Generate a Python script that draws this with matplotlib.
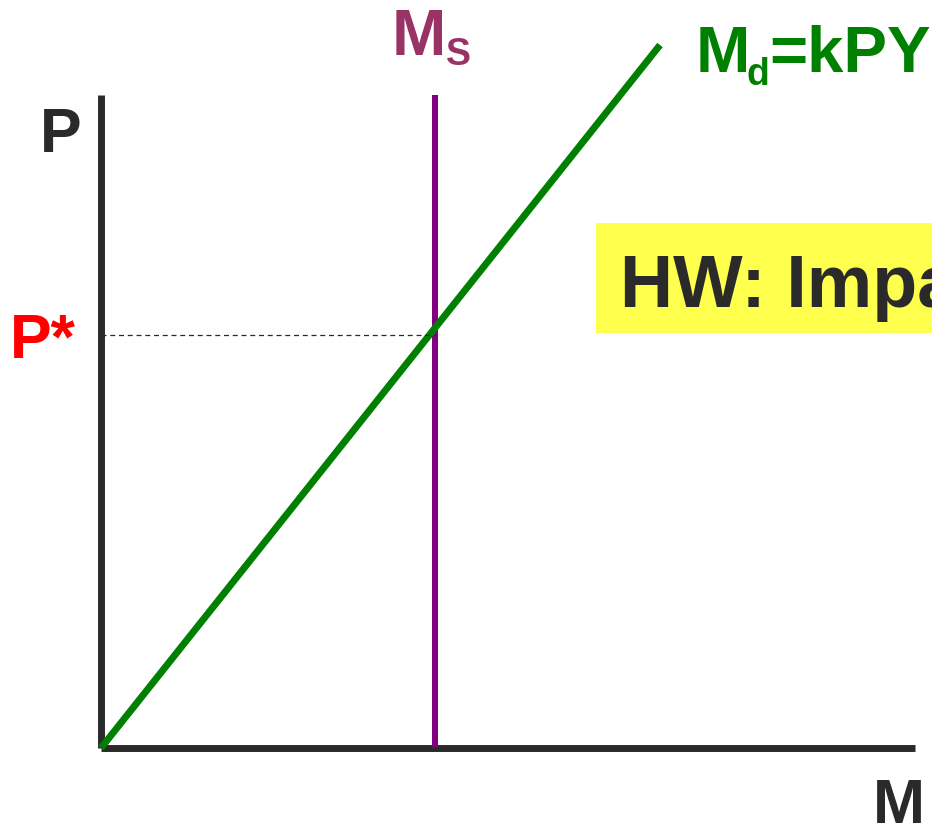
import matplotlib
matplotlib.use("Agg")
import matplotlib.pyplot as plt
from matplotlib.patches import Rectangle

plt.rcParams["font.family"] = ["Liberation Sans", "DejaVu Sans"]
plt.rcParams["font.weight"] = "bold"

# economic quantities (units = pixels of the original slide, origin at the axes corner)
m_axis_end = 814
p_axis_end = 653
ms_value = 334
md_end = (559, 703)
p_star = 413

DARK = "#2a2a2a"
GREEN = "#008000"
PURPLE = "#800080"
MS_LABEL = "#993366"
RED = "#ff0000"
YELLOW = "#ffff4d"

fig = plt.figure(figsize=(9.32, 8.26), dpi=100)
ax = fig.add_axes([0, 0, 1, 1])
ax.set_xlim(-101, 831)
ax.set_ylim(-78, 748)
ax.axis("off")

# axes of the diagram
ax.plot([0, 0], [0, p_axis_end], color=DARK, lw=5, solid_capstyle="butt")
ax.plot([0, m_axis_end], [0, 0], color=DARK, lw=5, solid_capstyle="butt")

# money supply (vertical) and money demand
ax.plot([ms_value, ms_value], [0, p_axis_end], color=PURPLE, lw=4.3, solid_capstyle="butt")
ax.plot([0, md_end[0]], [0, md_end[1]], color=GREEN, lw=5, solid_capstyle="butt")

# equilibrium price level
ax.plot([0, ms_value], [p_star, p_star], color=DARK, lw=0.9, ls=(0, (4, 3)))

# labels
big = 45
ax.text(-61, 596, "P", fontsize=big, color=DARK, va="baseline", ha="left")
ax.text(-91, 390, "P*", fontsize=big, color=RED, va="baseline", ha="left")
ax.text(772, -75, "M", fontsize=big, color=DARK, va="baseline", ha="left")

ax.text(291, 693, "M", fontsize=47, color=MS_LABEL, va="baseline", ha="left")
ax.text(345, 683, "S", fontsize=27, color=MS_LABEL, va="baseline", ha="left")

ax.text(595, 676, "M", fontsize=47, color=GREEN, va="baseline", ha="left")
ax.text(645, 663, "d", fontsize=27, color=GREEN, va="baseline", ha="left")
ax.text(668, 676, "=kPY", fontsize=47, color=GREEN, va="baseline", ha="left")

# homework box (runs off the slide edge)
ax.add_patch(Rectangle((495, 415), 400, 110, facecolor=YELLOW, edgecolor="none", clip_on=False))
ax.text(519, 441, "HW: Impact", fontsize=53, color=DARK, va="baseline", ha="left")

fig.savefig("out.png", dpi=100)
